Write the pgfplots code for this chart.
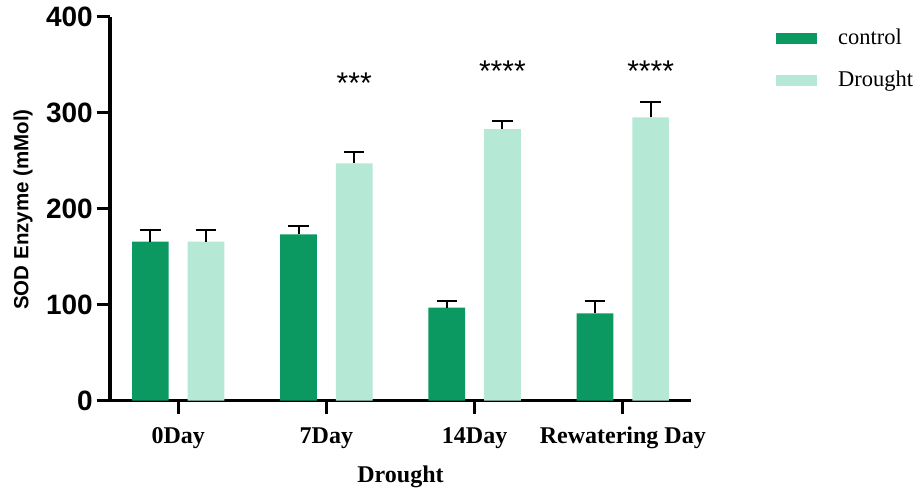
\documentclass[border=0pt]{standalone}
\usepackage{pgfplots}
\pgfplotsset{compat=1.18}
\usepackage{fontspec}
\setmainfont{Liberation Serif}
\newfontfamily\arial{Liberation Sans}
\definecolor{ctrl}{RGB}{11,153,97}
\definecolor{drou}{RGB}{182,233,213}
\begin{document}
\begin{tikzpicture}
\path[use as bounding box] (-110pt,-90.3pt) rectangle (810pt,400.7pt);
\begin{axis}[
  scale only axis, width=581pt, height=384pt,
  xmin=-0.46, xmax=3.46, ymin=0, ymax=400,
  axis lines=left,
  axis line style={-, line width=3.3pt, black},
  xtick={0,1,2,3},
  xticklabels={0Day,7Day,14Day,Rewatering Day},
  ytick={0,100,200,300,400},
  tick align=outside,
  major tick length=13.3pt,
  tick style={line width=3pt, black},
  minor tick num=0,
  /pgf/number format/assume math mode=true,
  yticklabel style={font=\arial\bfseries\fontsize{28}{28}\selectfont, anchor=east, inner sep=0pt, xshift=-3.7pt},
  xticklabel style={font=\bfseries\fontsize{24}{24}\selectfont, anchor=base, inner sep=0pt, yshift=-29.3pt},
  xlabel={Drought},
  xlabel style={font=\bfseries\fontsize{24}{24}\selectfont, at={(axis description cs:0.5,0)}, anchor=base, yshift=-81.9pt, inner sep=0pt},
  ylabel={SOD Enzyme (mMol)},
  ylabel style={font=\arial\bfseries\fontsize{20.5}{20.5}\selectfont, at={(axis description cs:-0.1497,0.498)}, anchor=center, inner sep=0pt},
  ybar, bar width=36.7pt,
  legend cell align=left,
  legend image code/.code={\fill[#1] (0pt,-5.5pt) rectangle (41pt,5.5pt);},
  legend style={draw=none, fill=none, at={(axis description cs:1.1463,0.970)}, anchor=north west, inner sep=0pt,
    font=\fontsize{22.5}{22.5}\selectfont,
    nodes={inner sep=0pt, text height=16pt, text depth=5pt},
    row sep=21pt,
    /tikz/every odd column/.append style={column sep=21pt}},
  error bars/error bar style={line width=2pt, black},
  error bars/error mark options={line width=2pt, black, mark size=10.3pt, rotate=90},
]
\addplot[fill=ctrl, draw=none, bar shift=-27.8pt,
  error bars/.cd, y dir=plus, y explicit]
  coordinates {(0,165.6) +- (0,12.2) (1,173.3) +- (0,9.0) (2,96.9) +- (0,7.0) (3,91.0) +- (0,13.2)};
\addlegendentry{control}
\addplot[fill=drou, draw=none, bar shift=27.8pt,
  error bars/.cd, y dir=plus, y explicit]
  coordinates {(0,165.6) +- (0,12.2) (1,247.3) +- (0,11.8) (2,283.0) +- (0,8.4) (3,295.2) +- (0,15.9)};
\addlegendentry{Drought}
\node[anchor=base, font=\arial\fontsize{30}{30}\selectfont, inner sep=0pt] at (axis cs:1.1876,320) {***};
\node[anchor=base, font=\arial\fontsize{30}{30}\selectfont, inner sep=0pt] at (axis cs:2.1876,333) {****};
\node[anchor=base, font=\arial\fontsize{30}{30}\selectfont, inner sep=0pt] at (axis cs:3.1876,333) {****};
\end{axis}
\end{tikzpicture}
\end{document}
